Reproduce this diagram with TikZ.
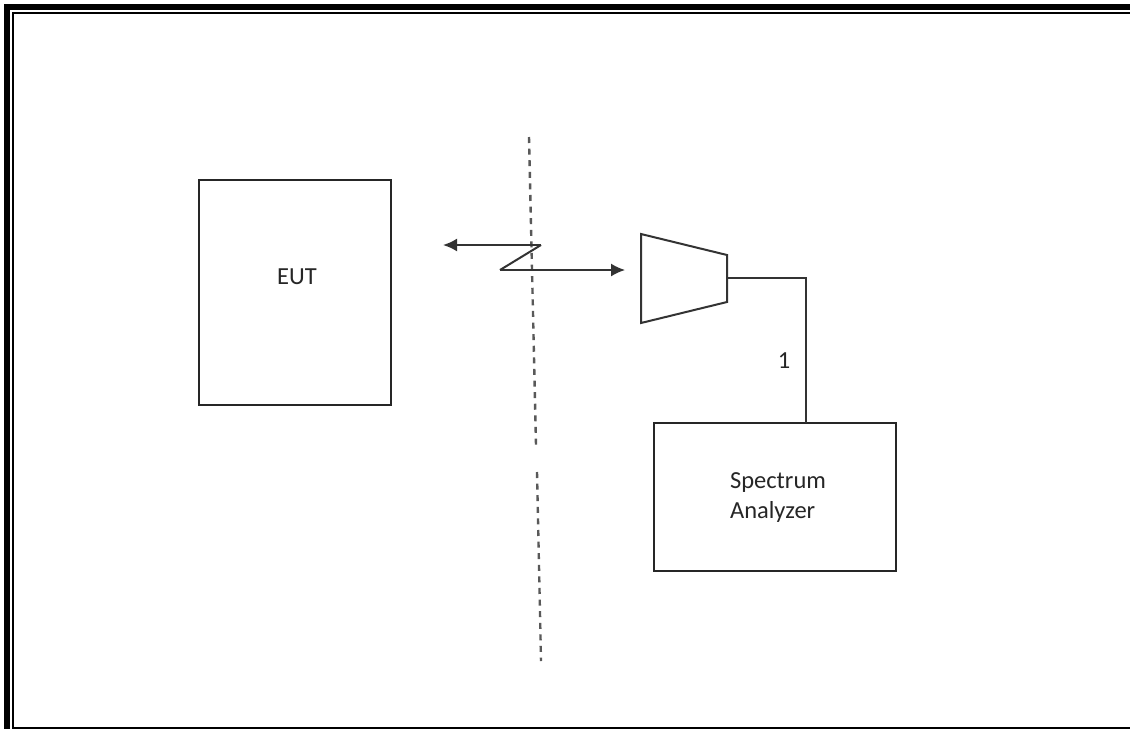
\documentclass[tikz,border=0pt]{standalone}
\usepackage{fontspec}
\setmainfont{Carlito}
\usetikzlibrary{arrows.meta}
\tikzset{
    box/.style={draw=black!85, line width=2pt, outer sep=0pt, minimum width=#1, inner sep=0pt, anchor=north west},
    label/.style={font=\fontsize{24.5}{30}\selectfont, text=black!85, align=left},
    wire/.style={draw=black!80, line width=2pt},
    radio/.style={wire, -{Latex[length=14pt, width=13pt]}},
    border/.style={line cap=butt, line width=#1},
    boundary/.style={black!65, line width=2.4pt, dash pattern=on 6pt off 5.6pt}
}
\begin{document}
\begin{tikzpicture}[x=1pt, y=-1pt]
    \useasboundingbox (0,0) rectangle (1130,729);

    % page frame
    \draw[border=6pt] (1130,7) -- (7,7) -- (7,729);
    \draw[border=2pt] (1130,13) -- (13,13) -- (13,727.5) -- (1130,727.5);

    % boxes
    \node[box=192pt, minimum height=225pt] (eut) at (199,180) {};
    \node[label] (eutlabel) at (297,277) {EUT};
    \node[box=242pt, minimum height=148pt] (analyzer) at (654,423) {};
    \node[label] (analyzerlabel) at (778,498) {Spectrum\\Analyzer};

    % boundary
    \coordinate (linetop) at (529,137);
    \coordinate (linemid) at (536,445);
    \coordinate (linelow) at (537,472);
    \coordinate (linebot) at (541,661);
    \draw[boundary] (linetop) -- (linemid);
    \draw[boundary] (linelow) -- (linebot);

    % horn
    \coordinate (horna) at (641,234);
    \coordinate (hornb) at (727,255);
    \coordinate (hornc) at (727,302);
    \coordinate (hornd) at (641,323);
    \coordinate (hornout) at (727,278);
    \draw[wire] (horna) -- (hornb) -- (hornc) -- (hornd) -- cycle;

    % radio link
    \coordinate (linkleft) at (443,245);
    \coordinate (linkup) at (541,245);
    \coordinate (linkdown) at (500,270);
    \coordinate (linkright) at (625,270);
    \draw[radio] (linkup) -- (linkleft);
    \draw[wire] (linkup) -- (linkdown);
    \draw[radio, line width=1.6pt] (linkdown) -- (linkright);

    % cable
    \coordinate (cablebend) at (806,278);
    \draw[wire] (hornout) -- (cablebend) -- (cablebend |- analyzer.north);
    \node[label] (cablelabel) at (784,361) {1};
\end{tikzpicture}
\end{document}
